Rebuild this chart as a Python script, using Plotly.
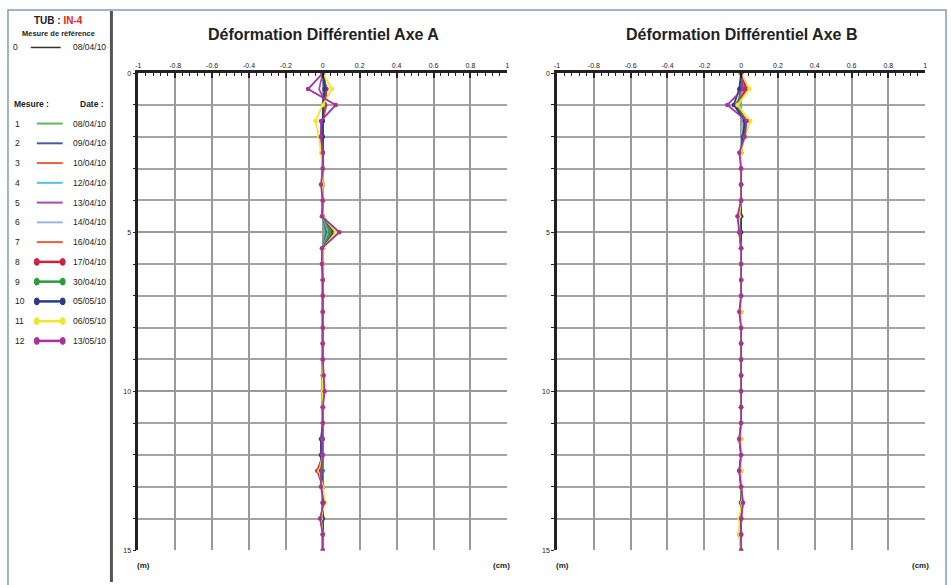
import plotly.graph_objects as go

# ---------------- data ----------------
depth = [0, 0.5, 1, 1.5, 2, 2.5, 3, 3.5, 4, 4.5, 5, 5.5, 6, 6.5, 7, 7.5,
         8, 8.5, 9, 9.5, 10, 10.5, 11, 11.5, 12, 12.5, 13, 13.5, 14, 14.5, 15]

mesure_num = ["1", "2", "3", "4", "5", "6", "7", "8", "9", "10", "11", "12"]
mesure_date = ["08/04/10", "09/04/10", "10/04/10", "12/04/10", "13/04/10", "14/04/10",
               "16/04/10", "17/04/10", "30/04/10", "05/05/10", "06/05/10", "13/05/10"]
ref_date = "08/04/10"

x_ticks = [-1, -0.8, -0.6, -0.4, -0.2, 0, 0.2, 0.4, 0.6, 0.8, 1]
x_ticktext = ["-1", "-0.8", "-0.6", "-0.4", "-0.2", "0", "0.2", "0.4", "0.6", "0.8", "1"]
y_ticks = [0, 5, 10, 15]

# Axe A (cm), one list per measure
axeA_1 = [0, 0.01, 0.005, 0, 0, 0, 0, 0, 0, 0, 0.01, 0, 0, 0, 0, 0, 0, 0, 0, 0, 0, 0, 0, 0, 0, 0, 0, 0, 0, 0, 0]
axeA_2 = [0, 0.01, 0.005, 0, 0, 0, 0, 0, 0, 0, 0.02, 0, 0, 0, 0, 0, 0, 0, 0, 0, 0, 0, 0, -0.005, 0, 0, 0, 0, 0, 0, 0]
axeA_3 = [0, 0.015, 0.01, 0, -0.005, 0, 0, 0, 0, 0, 0.03, 0, 0, 0, 0, 0, 0, 0, 0, 0, 0, 0, 0, 0, 0, -0.01, 0, 0, 0, 0, 0]
axeA_4 = [0, 0.01, 0.005, 0, 0, 0, 0, 0, 0, 0, 0.03, 0, 0, 0, 0, 0, 0, 0, 0, 0, 0, 0, 0, 0, 0, 0, 0, 0, 0, 0, 0]
axeA_5 = [0, -0.02, 0.02, 0, 0, 0, 0, 0, 0, 0, 0.04, 0, 0, 0, 0, 0, 0, 0, 0, 0, 0, 0, 0, 0, 0, -0.01, 0, 0, 0, 0, 0]
axeA_6 = [0, 0.01, 0.01, 0, 0, 0, 0, 0, 0, 0, 0.04, 0, 0, 0, 0, 0, 0, 0, 0, 0, 0, 0, 0, 0, 0, 0, 0, 0, 0, 0, 0]
axeA_7 = [0, 0.02, 0.01, 0, -0.01, 0, 0, -0.005, 0, 0, 0.05, 0, 0, 0, 0, 0, 0, 0, 0, 0, 0, 0, 0, 0, 0, -0.02, 0, 0, 0, 0, 0]
axeA_8 = [0, 0.02, 0.01, 0, -0.01, 0, 0, 0, 0, 0, 0.06, 0, 0, 0, 0, 0, 0, 0, 0, 0, 0, 0, 0, 0, 0, -0.03, 0, 0, 0, 0, 0]
axeA_9 = [0, 0.01, 0.005, 0, 0, 0, 0, 0, 0, 0, 0.04, 0, 0, 0, 0, 0, 0, 0, 0, 0, 0, 0, 0, 0, 0, 0, 0, 0, -0.005, 0, 0]
axeA_10 = [0, 0.01, 0, 0, 0, 0, 0, 0, 0, 0, 0.06, 0, 0, 0, 0, 0, 0, 0, 0, 0, 0, 0, 0, -0.01, -0.01, -0.01, 0, 0, 0, 0, 0]
axeA_11 = [0, 0.05, 0, -0.04, -0.02, -0.01, 0, 0, 0, 0, 0.07, 0, 0, 0, 0, 0, 0, 0, 0, 0, 0, 0, 0, 0, 0, -0.02, 0, 0.01, -0.01, 0, 0]
axeA_12 = [0, -0.08, 0.07, -0.01, -0.01, 0, 0, -0.01, 0, -0.005, 0.09, -0.005, -0.005, 0, 0, 0, 0, 0, 0, 0.005, 0.01, 0, 0, 0, 0, -0.01, -0.01, 0.005, -0.015, 0, 0]

# Axe B (cm)
axeB_1 = [0, 0.01, -0.01, 0.01, 0, 0, 0, 0, 0, 0, 0, 0, 0, 0, 0, 0, 0, 0, 0, 0, 0, 0, 0, 0, 0, 0, 0, 0, 0, 0, 0]
axeB_2 = [0, 0.01, -0.01, 0.01, 0, 0, 0, 0, 0, 0, 0, 0, 0, 0, 0, 0, 0, 0, 0, 0, 0, 0, 0, 0, 0, 0, 0, 0, 0, 0, 0]
axeB_3 = [0, 0.02, -0.02, 0.02, 0.01, 0, 0, 0, 0, -0.01, 0, 0, 0, 0, 0, 0, 0, 0, 0, 0, 0, 0, 0, 0, 0, 0, 0, 0, 0, 0, 0]
axeB_4 = [0, 0.01, -0.01, 0.01, 0, 0, 0, 0, 0, 0, 0, 0, 0, 0, 0, 0, 0, 0, 0, 0, 0, 0, 0, 0, 0, 0, 0, 0, 0, 0, 0]
axeB_5 = [0, 0.02, -0.03, 0.02, 0.01, 0, 0, 0, 0, -0.01, 0, 0, 0, 0, 0, 0, 0, 0, 0, 0, 0, 0, 0, 0, 0, 0, 0, 0, 0, 0, 0]
axeB_6 = [0, 0.01, -0.01, 0.01, 0, 0, 0, 0, 0, 0, 0, 0, 0, 0, 0, 0, 0, 0, 0, 0, 0, 0, 0, 0, 0, 0, 0, 0, 0, 0, 0]
axeB_7 = [0, 0.03, -0.03, 0.03, 0.01, 0, 0, 0, 0, -0.01, -0.01, 0, 0, 0, 0, 0, 0, 0, 0, 0, 0, 0, 0, 0, 0, 0, 0, 0, 0, 0, 0]
axeB_8 = [0, 0.03, -0.03, 0.03, 0.01, 0, 0, 0, 0, -0.01, -0.01, 0, 0, 0, 0, -0.005, 0, 0, 0, 0, 0, 0, 0, 0, 0, 0, 0, 0.01, 0, 0, 0]
axeB_9 = [0, 0, -0.02, 0.02, 0.01, 0, 0, 0, 0, 0, 0, 0, 0, 0, 0, 0, 0, 0, 0, 0, 0, 0, 0, 0, 0, 0, 0, 0, 0, -0.01, 0]
axeB_10 = [0, -0.01, -0.04, 0.02, 0.01, 0, 0, 0, 0, 0, 0, 0, 0, 0, 0, 0, 0, 0, 0, 0, 0, 0, 0, -0.01, 0, -0.01, 0, 0, 0, 0, 0]
axeB_11 = [0, 0.045, -0.02, 0.05, 0.02, 0, 0, 0, 0, -0.01, -0.01, 0, 0, 0, 0, 0, 0, 0, 0, 0, 0, 0, 0, 0, 0, 0, 0, 0.005, -0.01, -0.01, 0]
axeB_12 = [0, 0.01, -0.075, 0.03, 0.02, -0.01, 0, 0, 0, -0.02, -0.01, 0, 0, 0, 0, -0.01, 0, 0, 0, 0, 0, 0, 0, -0.01, 0, -0.01, 0, 0.01, 0, 0, 0]

axeA = [axeA_1, axeA_2, axeA_3, axeA_4, axeA_5, axeA_6, axeA_7, axeA_8, axeA_9, axeA_10, axeA_11, axeA_12]
axeB = [axeB_1, axeB_2, axeB_3, axeB_4, axeB_5, axeB_6, axeB_7, axeB_8, axeB_9, axeB_10, axeB_11, axeB_12]

colors = ["#5cb85c", "#4a5aa8", "#f0603a", "#4fc3e0", "#a84ab0", "#9ab8dc",
          "#f05a3c", "#d0223a", "#2a9a3a", "#2c3a8c", "#f0e62a", "#a8329c"]
with_markers = [False] * 7 + [True] * 5

# ---------------- figure ----------------
W, H = 951, 585
fig = go.Figure()

for i in range(12):
    for vals, xa, ya in ((axeA[i], "x", "y"), (axeB[i], "x2", "y2")):
        fig.add_trace(go.Scatter(
            x=vals, y=depth, xaxis=xa, yaxis=ya,
            mode="lines+markers" if with_markers[i] else "lines",
            line=dict(color=colors[i], width=1.8),
            marker=dict(color=colors[i], size=4.5, symbol="circle"),
            showlegend=False, hoverinfo="skip"))


def px(x):
    return x / W


def py(y):
    return 1 - y / H


font_ax = dict(family="Liberation Sans, Arial", size=7, color="#222")


def xaxis_def(dom):
    return dict(domain=dom, range=[-1, 1], side="top", tickvals=x_ticks, ticktext=x_ticktext,
                showgrid=True, gridcolor="#9a9a9a", gridwidth=1.5, zeroline=False,
                showline=True, linecolor="#222", linewidth=2.5,
                ticks="inside", ticklen=5, tickwidth=1.5, tickcolor="#222",
                minor=dict(dtick=0.04, ticks="inside", ticklen=3, tickwidth=1.2, tickcolor="#222", showgrid=False),
                tickfont=font_ax, fixedrange=True)


def yaxis_def(anchor):
    return dict(domain=[py(553), py(70)], range=[15, 0], anchor=anchor, tickvals=y_ticks,
                showgrid=True, gridcolor="#9a9a9a", gridwidth=1.5, zeroline=False,
                showline=True, linecolor="#222", linewidth=2.5,
                ticks="outside", ticklen=3, tickwidth=1.2, tickcolor="#222",
                minor=dict(dtick=1, ticks="outside", ticklen=3, tickwidth=1.2, tickcolor="#222",
                           showgrid=True, gridcolor="#a4a4a4", gridwidth=1.5),
                tickfont=font_ax, fixedrange=True)


fig.update_layout(
    width=W, height=H, margin=dict(l=0, r=0, t=0, b=0),
    paper_bgcolor="white", plot_bgcolor="white",
    xaxis=dict(xaxis_def([px(136), px(507)]), anchor="y"),
    yaxis=yaxis_def("x"),
    xaxis2=dict(xaxis_def([px(557), px(927)]), anchor="y2"),
    yaxis2=yaxis_def("x2"),
)

ann = []
shapes = []
bold = "Liberation Sans, Arial"


def text_at(x, y, text, size, xanchor="center"):
    ann.append(dict(x=px(x), y=py(y), xref="paper", yref="paper", showarrow=False,
                    xanchor=xanchor, yanchor="middle", text=text,
                    font=dict(family=bold, size=size, color="#222")))


# titles
text_at(322, 31, "<b>Déformation Différentiel Axe A</b>", 16)
text_at(742, 31, "<b>Déformation Différentiel Axe B</b>", 16)
# unit labels
text_at(141, 568, "<b>(m)</b>", 8)
text_at(501, 568, "<b>(cm)</b>", 8)
text_at(562, 568, "<b>(m)</b>", 8)
text_at(922, 568, "<b>(cm)</b>", 8)

# left legend panel
text_at(56, 17, "<b>TUB : <span style='color:#e8241c'>IN-4</span></b>", 10)
text_at(56, 30, "<b>Mesure de référence</b>", 7.5)
text_at(13, 44, "0", 8.5)
shapes.append(dict(type="line", xref="paper", yref="paper", x0=px(28), x1=px(58), y0=py(44), y1=py(44),
                   line=dict(color="#333", width=1.5)))
text_at(106, 44, ref_date, 8.5, "right")
text_at(9, 101, "<b>Mesure :</b>", 8.5, "left")
text_at(104, 101, "<b>Date :</b>", 8.5, "right")

for i in range(12):
    yy = 121 + i * 20
    text_at(10, yy, mesure_num[i], 8.5, "left")
    text_at(106, yy, mesure_date[i], 8.5, "right")
    shapes.append(dict(type="line", xref="paper", yref="paper", x0=px(34), x1=px(60), y0=py(yy), y1=py(yy),
                       line=dict(color=colors[i], width=2.5 if with_markers[i] else 2)))
    if with_markers[i]:
        for cx in (34, 60):
            shapes.append(dict(type="circle", xref="paper", yref="paper",
                               x0=px(cx - 2.5), x1=px(cx + 2.5), y0=py(yy + 3.5), y1=py(yy - 3.5),
                               fillcolor=colors[i], line=dict(color=colors[i], width=1)))

# frame and separator
shapes.append(dict(type="rect", xref="paper", yref="paper", x0=px(5), x1=px(948), y0=py(590), y1=py(6),
                   line=dict(color="#7f9db8", width=1.5)))
shapes.append(dict(type="line", xref="paper", yref="paper", x0=px(109), x1=px(109), y0=py(585), y1=py(7),
                   line=dict(color="#555", width=3)))

fig.update_layout(annotations=ann, shapes=shapes)
fig.write_html("out.html", config={"displayModeBar": False},
               post_script="document.body.style.margin='0';document.body.style.overflow='hidden';")
